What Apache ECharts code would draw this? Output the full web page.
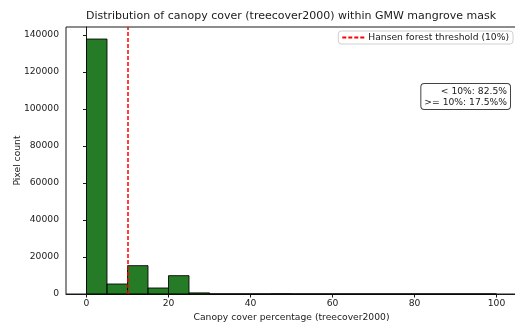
<!DOCTYPE html>
<html>
<head>
<meta charset="utf-8">
<script src="https://cdn.jsdelivr.net/npm/echarts@6/dist/echarts.min.js"></script>
<style>
  html, body { margin: 0; padding: 0; background: #fff; }
  #chart { width: 515px; height: 322px; }
</style>
</head>
<body>
<div id="chart"></div>
<script>
// histogram bins (5% wide) and pixel counts
const binStarts = [0, 5, 10, 15, 20, 25, 30, 35, 40, 45, 50, 55, 60, 65, 70, 75, 80, 85, 90, 95];
const binCounts = [137700, 5400, 15300, 3240, 9900, 600, 0, 0, 0, 80, 0, 0, 0, 0, 0, 0, 0, 0, 0, 0];
const binWidth = 5;
const threshold = 10;
const xTicks = [0, 20, 40, 60, 80, 100];
const yTicks = [0, 20000, 40000, 60000, 80000, 100000, 120000, 140000];
const statLines = ["< 10%: 82.5%", ">= 10%: 17.5%%"];

const FONT = "DejaVu Sans";
const INK = "#1a1a1a";
const FS = 9.2;

const histData = binStarts.map((s, i) => [s, s + binWidth, binCounts[i]]);

const el = document.getElementById("chart");
const chart = echarts.init(el, null, { renderer: "canvas" });

chart.setOption({
  animation: false,
  textStyle: { fontFamily: FONT, color: INK },
  title: {
    text: "Distribution of canopy cover (treecover2000) within GMW mangrove mask",
    left: 291,
    textAlign: "center",
    top: 11,
    padding: 0,
    textStyle: { fontSize: 11, fontWeight: "normal", color: INK, fontFamily: FONT }
  },
  legend: {
    right: 2,
    top: 31,
    padding: [2, 4, 2, 3],
    itemWidth: 22,
    itemHeight: 10,
    itemGap: 6,
    backgroundColor: "#fff",
    borderColor: "#d0d0d0",
    borderWidth: 1,
    borderRadius: 3,
    itemStyle: { opacity: 0 },
    textStyle: { fontSize: FS, color: INK, fontFamily: FONT, padding: [0, 0, 0, -1] },
    data: ["Hansen forest threshold (10%)"]
  },
  grid: {
    left: 66, right: -2, top: 27, bottom: 28,
    outerBoundsMode: "none",
    containLabel: false,
    show: true, borderColor: INK, borderWidth: 1
  },
  xAxis: {
    type: "value",
    min: -5,
    max: 105,
    name: "Canopy cover percentage (treecover2000)",
    nameLocation: "middle",
    nameGap: 18,
    nameTextStyle: { fontSize: FS, color: INK, fontFamily: FONT },
    axisLine: { lineStyle: { color: INK, width: 1 } },
    axisTick: { show: true, length: 3.5, lineStyle: { color: INK }, customValues: xTicks },
    axisLabel: { fontSize: FS, color: INK, fontFamily: FONT, margin: 5, customValues: xTicks },
    splitLine: { show: false }
  },
  yAxis: {
    type: "value",
    min: 0,
    max: 144200,
    name: "Pixel count",
    nameLocation: "middle",
    nameGap: 44,
    nameMoveOverlap: false,
    nameTextStyle: { fontSize: FS, color: INK, fontFamily: FONT },
    axisLine: { show: true, lineStyle: { color: INK, width: 1 } },
    axisTick: { show: true, length: 3.5, lineStyle: { color: INK }, customValues: yTicks },
    axisLabel: {
      fontSize: FS,
      color: INK,
      fontFamily: FONT,
      margin: 7,
      customValues: yTicks,
      formatter: v => String(v)
    },
    splitLine: { show: false }
  },
  series: [
    {
      type: "custom",
      name: "count",
      data: histData,
      encode: { x: [0, 1], y: 2 },
      renderItem: function (params, api) {
        const top = api.coord([api.value(0), api.value(2)]);
        const base = api.coord([api.value(1), 0]);
        return {
          type: "rect",
          shape: { x: top[0], y: top[1], width: base[0] - top[0], height: base[1] - top[1] },
          style: { fill: "rgba(0,100,0,0.85)", stroke: "rgba(0,0,0,0.85)", lineWidth: 1 }
        };
      },
      z: 2
    },
    {
      type: "line",
      name: "Hansen forest threshold (10%)",
      data: [],
      symbol: "none",
      itemStyle: { color: "#ff0000" },
      lineStyle: { color: "#ff0000", type: [4, 2], width: 1.5 },
      markLine: {
        silent: true,
        symbol: "none",
        label: { show: false },
        lineStyle: { color: "#ff0000", type: [4, 2], width: 1.5 },
        data: [{ xAxis: threshold }]
      },
      z: 3
    }
  ],
  graphic: [
    {
      type: "text",
      right: 4,
      top: 83,
      z: 10,
      style: {
        text: statLines.map(s => "{r|" + s + "}").join("\n"),
        rich: { r: { align: "right", fontSize: FS, fontFamily: FONT, color: INK, lineHeight: 11 } },
        font: FS + "px " + FONT,
        fill: INK,
        backgroundColor: "#fff",
        borderColor: "#444",
        borderWidth: 1,
        borderRadius: 3,
        padding: [2, 3, 1, 3]
      }
    }
  ]
});
</script>
</body>
</html>
